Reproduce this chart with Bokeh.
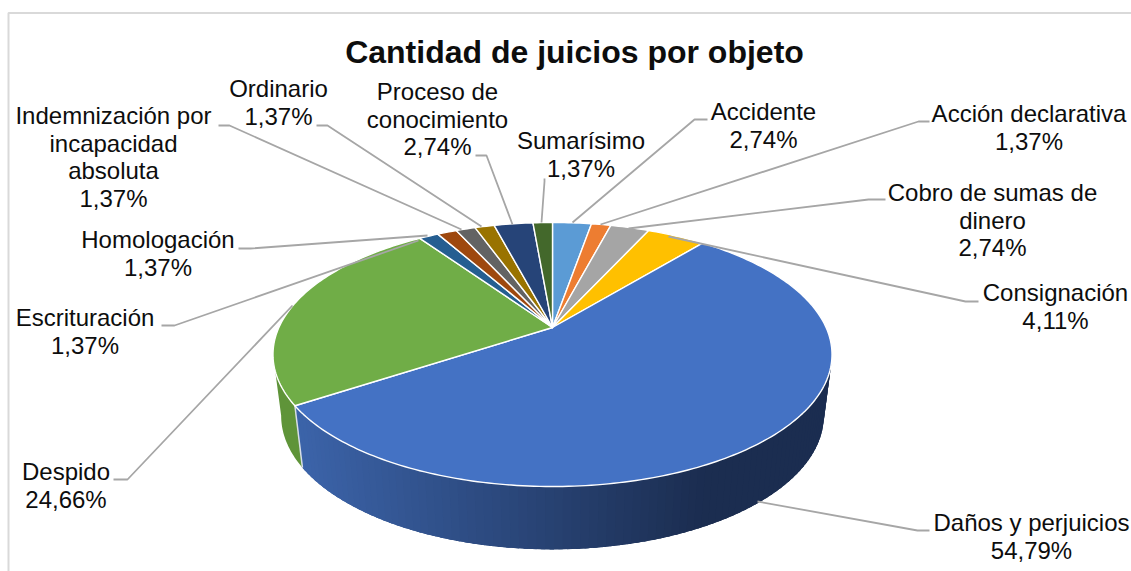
import math
from bokeh.plotting import figure
from bokeh.models import Range1d
from bokeh.core.properties import value
from bokeh.embed import file_html
from bokeh.resources import INLINE

title = "Cantidad de juicios por objeto"
categories = ["Accidente", "Acción declarativa", "Cobro de sumas de dinero", "Consignación",
              "Daños y perjuicios", "Despido", "Escrituración", "Homologación",
              "Indemnización por incapacidad absoluta", "Ordinario", "Proceso de conocimiento", "Sumarísimo"]
shares = [2.74, 1.37, 2.74, 4.11, 54.79, 24.66, 1.37, 1.37, 1.37, 1.37, 2.74, 1.37]

# styles
colors = ["#5B9BD5", "#ED7D31", "#A5A5A5", "#FFC000", "#4472C4", "#70AD47",
          "#255E91", "#9E480E", "#636363", "#997300", "#264478", "#43682B"]
FONT = "Liberation Sans"
FS = "24px"
LEAD = 27.6

# label layout: wrapped name lines, centre x, first line y
wrapped = [["Accidente"], ["Acción declarativa"], ["Cobro de sumas de", "dinero"], ["Consignación"],
           ["Daños y perjuicios"], ["Despido"], ["Escrituración"], ["Homologación"],
           ["Indemnización por", "incapacidad", "absoluta"], ["Ordinario"], ["Proceso de", "conocimiento"], ["Sumarísimo"]]
label_cx = [763, 1028.5, 992, 1055, 1031, 65.5, 84.5, 157.5, 113, 278, 437, 580.5]
label_y0 = [111, 113, 192, 292, 522, 471, 317, 239, 115, 88, 91, 140]
leaders = [[(572, 222), (694, 119), (707, 119)],
           [(600, 224), (918, 121), (929, 121)],
           [(628, 228), (868, 199), (885, 199)],
           [(668, 236), (965, 301), (978, 301)],
           [(757, 501), (917, 530), (929, 530)],
           [(292, 305), (127, 479), (113, 479)],
           [(418, 240), (174, 325), (161, 325)],
           [(427, 235), (250, 248), (238, 248)],
           [(461, 229), (229, 125), (218, 125)],
           [(481, 226), (327, 125), (316, 125)],
           [(512, 224), (486, 155), (475, 155)],
           [(541, 222), (544, 181), (544, 178)]]

# projection of the tilted disc (page pixels)
CX, AY, S, A, K = 552.0, 327.0, 273.6, 126.5, 0.2045
S2, AY2, A2 = 265.6, 388.0, 128.0


def top(th):
    u, v = math.sin(th), math.cos(th)
    w = 1 + K * v
    return CX + S * u / w, AY - A * v / w


def low(th):
    u, v = math.sin(th), math.cos(th)
    w = 1 + K * v
    return CX + S2 * u / w, AY2 - A2 * v / w


def mix(a, b, t):
    ca = [int(a[i:i + 2], 16) for i in (1, 3, 5)]
    cb = [int(b[i:i + 2], 16) for i in (1, 3, 5)]
    return "#%02x%02x%02x" % tuple(round(x + (y - x) * t) for x, y in zip(ca, cb))


p = figure(width=1131, height=571, x_range=Range1d(0, 1131), y_range=Range1d(571, 0),
           output_backend="svg", toolbar_location=None, min_border=0)
p.axis.visible = False
p.grid.visible = False
p.outline_line_color = None
p.background_fill_color = "white"
p.border_fill_color = "white"

# chart frame
p.line([1131, 8, 8], [12.5, 12.5, 571], line_color="#D9D9D9", line_width=2)

total = sum(shares)
edges = [0.0]
for s in shares:
    edges.append(edges[-1] + s / total * 2 * math.pi)

# side wall
i_b = categories.index("Daños y perjuicios")
i_g = categories.index("Despido")
right_lim = math.radians(101.8)
left_lim = math.radians(258.2)
t0, t1 = edges[i_b + 1], right_lim
N = 90
step = (t0 - t1) / N
for k in range(N):
    a = t1 + step * k
    b = min(t0, a + step * 2.5)
    pa, pb, qa, qb = top(a), top(b), low(a), low(b)
    mx = low(a + step / 2)[0]
    t = min(1, max(0, (mx - 300) / (700 - 300)))
    col = mix("#3C64AA", "#1B2D50", t)
    p.patch([pa[0], pb[0], qb[0], qa[0]], [pa[1], pb[1], qb[1], qa[1]],
            fill_color=col, line_color=None)
ths = [edges[i_g] + (left_lim - edges[i_g]) * k / 40 for k in range(41)]
tp = [top(t) for t in ths]
lp = [low(t) for t in reversed(ths)]
p.patch([q[0] for q in tp + lp], [q[1] for q in tp + lp], fill_color="#5F9439", line_color=None)
c1, c2 = top(edges[i_g]), low(edges[i_g])
p.line([c1[0], c2[0]], [c1[1], c2[1]], line_color="#D8DEE8", line_width=1.5)

# top faces
for i, c in enumerate(colors):
    n = max(4, int((edges[i + 1] - edges[i]) * 60))
    ths = [edges[i] + (edges[i + 1] - edges[i]) * k / n for k in range(n + 1)]
    pts = [(CX, AY)] + [top(t) for t in ths]
    p.patch([q[0] for q in pts], [q[1] for q in pts], fill_color=c, line_color="white", line_width=1.4,
            line_join="round")

# leader lines
for pts in leaders:
    p.line([q[0] for q in pts], [q[1] for q in pts], line_color="#A6A6A6", line_width=1.8)

# texts
tx, ty, tt = [], [], []
for name_lines, cx, y0, v in zip(wrapped, label_cx, label_y0, shares):
    lines = name_lines + [f"{v:.2f}".replace(".", ",") + "%"]
    for j, ln in enumerate(lines):
        tx.append(cx)
        ty.append(y0 + j * LEAD)
        tt.append(ln)
p.text(tx, ty, text=tt, text_font=value(FONT), text_font_size=value(FS), text_color="#0D0D0D",
       text_align="center", text_baseline="middle")
p.text([574], [51.5], text=[title], text_font=value(FONT), text_font_size=value("32px"), text_font_style="bold",
       text_color="#0D0D0D", text_align="center", text_baseline="middle")

open("out.html", "w").write(file_html(p, INLINE))
